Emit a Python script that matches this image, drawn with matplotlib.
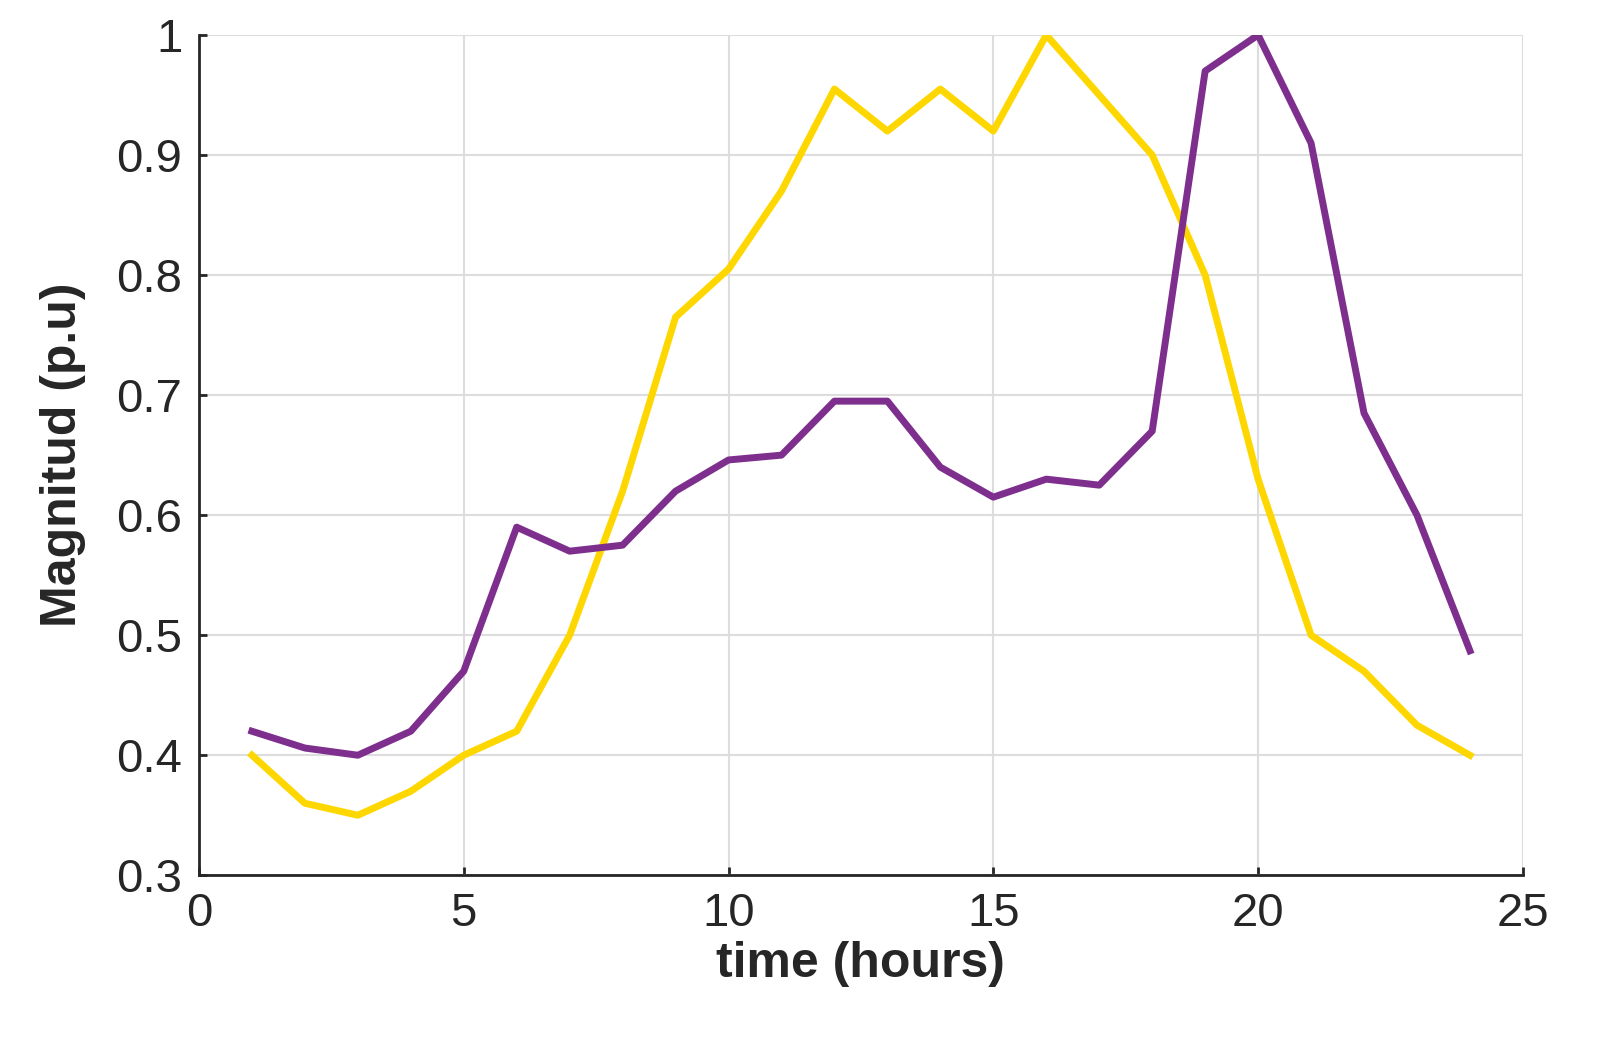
import matplotlib
matplotlib.use("Agg")
import matplotlib.pyplot as plt

hours = list(range(1, 25))
yellow = [0.4, 0.36, 0.35, 0.37, 0.4, 0.42, 0.5, 0.62, 0.765, 0.805, 0.87, 0.955,
          0.92, 0.955, 0.92, 1.0, 0.95, 0.9, 0.8, 0.63, 0.5, 0.47, 0.425, 0.4]
purple = [0.42, 0.406, 0.4, 0.42, 0.47, 0.59, 0.57, 0.575, 0.62, 0.646, 0.65, 0.695,
          0.695, 0.64, 0.615, 0.63, 0.625, 0.67, 0.97, 1.0, 0.91, 0.685, 0.6, 0.487]

plt.rcParams['font.family'] = ['Liberation Sans', 'DejaVu Sans']
fig = plt.figure(figsize=(15.98, 10.52), dpi=100)
ax = fig.add_axes([0.1245, 0.168, 0.8285, 0.7987])
ax.plot(hours, yellow, color='#FFD700', lw=5)
ax.plot(hours, purple, color='#7E2F8E', lw=5)
ax.set_xlim(0, 25)
ax.set_ylim(0.3, 1.0)
ax.set_xticks([0, 5, 10, 15, 20, 25])
ax.set_yticks([0.3, 0.4, 0.5, 0.6, 0.7, 0.8, 0.9, 1.0])
ax.set_yticklabels(['0.3', '0.4', '0.5', '0.6', '0.7', '0.8', '0.9', '1'])
ax.grid(True, color='#dddddd', lw=1.5)
ax.set_axisbelow(True)
for s in ['top', 'right']:
    ax.spines[s].set_visible(False)
for s in ['left', 'bottom']:
    ax.spines[s].set_linewidth(2)
    ax.spines[s].set_color('#262626')
ax.tick_params(labelsize=34, colors='#262626', width=2, length=6, direction='in', pad=12)
ax.set_xlabel('time (hours)', fontsize=36, fontweight='bold', color='#262626', labelpad=4)
ax.set_ylabel('Magnitud (p.u)', fontsize=36, fontweight='bold', color='#262626', labelpad=22)
fig.savefig('out.png', dpi=100)
